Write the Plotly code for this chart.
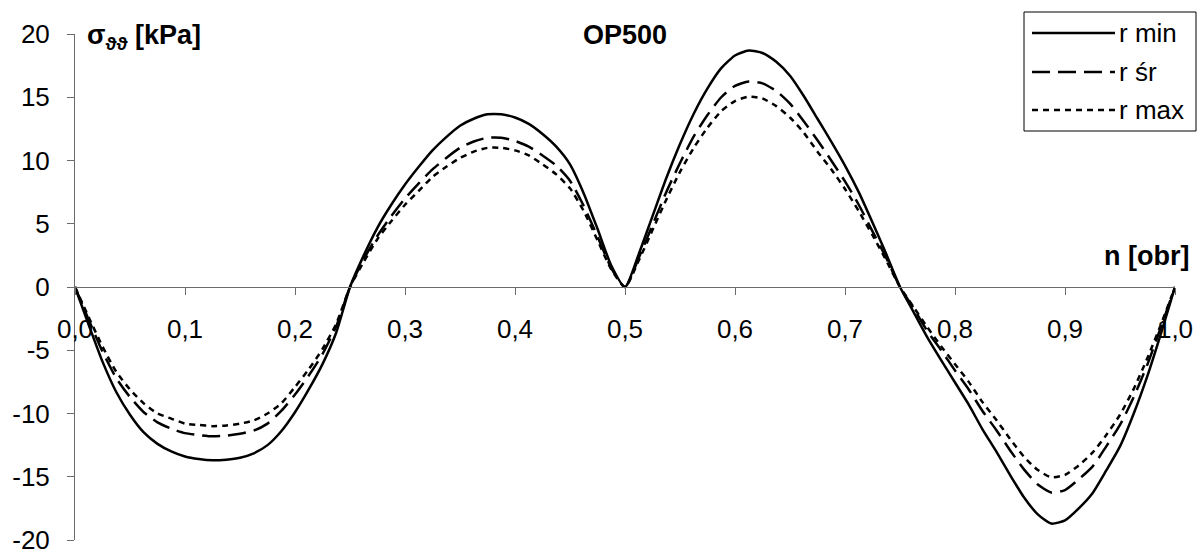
import plotly.graph_objects as go

# Rotation fraction n [obr]
n = [0.0, 0.0125, 0.025, 0.0375, 0.05, 0.0625, 0.075, 0.0875, 0.1, 0.1125,
     0.125, 0.1375, 0.15, 0.1625, 0.175, 0.1875, 0.2, 0.2125, 0.225, 0.2375,
     0.25, 0.2625, 0.275, 0.2875, 0.3, 0.3125, 0.325, 0.3375, 0.35, 0.3625,
     0.375, 0.3875, 0.4, 0.4125, 0.425, 0.4375, 0.45, 0.4625, 0.475, 0.4875,
     0.5, 0.5125, 0.525, 0.5375, 0.55, 0.5625, 0.575, 0.5875, 0.6, 0.6125,
     0.625, 0.6375, 0.65, 0.6625, 0.675, 0.6875, 0.7, 0.7125, 0.725, 0.7375,
     0.75, 0.7625, 0.775, 0.7875, 0.8, 0.8125, 0.825, 0.8375, 0.85, 0.8625,
     0.875, 0.8875, 0.9, 0.9125, 0.925, 0.9375, 0.95, 0.9625, 0.975, 0.9875,
     1.0]

# Stress sigma_theta-theta [kPa] at three radii
r_min = [0, -3.0, -5.9, -8.3, -10.1, -11.5, -12.4, -13.0, -13.4, -13.6,
         -13.7, -13.65, -13.5, -13.15, -12.5, -11.4, -9.9, -8.1, -6.1, -3.6,
         0, 2.5, 4.7, 6.5, 8.1, 9.5, 10.8, 11.85, 12.75, 13.3,
         13.65, 13.65, 13.4, 12.9, 12.1, 11.1, 9.7, 7.4, 4.6, 1.7,
         0, 2.6, 5.6, 8.6, 11.3, 13.7, 15.7, 17.3, 18.3, 18.7,
         18.5, 17.8, 16.7, 15.1, 13.3, 11.5, 9.6, 7.5, 5.1, 2.6,
         0, -2.0, -4.0, -5.8, -7.55, -9.3, -11.25, -13.0, -14.85, -16.6,
         -17.95, -18.7, -18.45, -17.5, -16.3, -14.5, -12.6, -10.0, -7.0, -3.6,
         0]

r_sr = [0, -2.6, -5.1, -7.2, -8.7, -9.9, -10.7, -11.2, -11.55, -11.7,
        -11.8, -11.75, -11.6, -11.35, -10.8, -9.8, -8.5, -7.0, -5.3, -3.1,
        0, 2.2, 4.05, 5.6, 7.0, 8.2, 9.3, 10.2, 11.0, 11.5,
        11.8, 11.8, 11.55, 11.1, 10.4, 9.6, 8.4, 6.4, 4.0, 1.5,
        0, 2.3, 4.9, 7.5, 9.8, 11.9, 13.6, 15.0, 15.9, 16.25,
        16.1, 15.5, 14.5, 13.1, 11.6, 10.0, 8.35, 6.5, 4.4, 2.3,
        0, -1.7, -3.5, -5.0, -6.6, -8.1, -9.8, -11.3, -12.9, -14.4,
        -15.6, -16.25, -16.05, -15.2, -14.2, -12.6, -10.9, -8.7, -6.1, -3.1,
        0]

r_max = [0, -2.4, -4.7, -6.7, -8.1, -9.2, -10.0, -10.4, -10.8, -10.9,
         -11.0, -10.95, -10.8, -10.55, -10.0, -9.2, -7.9, -6.5, -4.9, -2.9,
         0, 2.0, 3.8, 5.2, 6.5, 7.6, 8.7, 9.5, 10.2, 10.7,
         11.0, 11.0, 10.8, 10.4, 9.7, 8.9, 7.8, 6.0, 3.7, 1.4,
         0, 2.1, 4.5, 6.9, 9.1, 11.0, 12.6, 13.9, 14.7, 15.05,
         14.9, 14.3, 13.4, 12.2, 10.7, 9.3, 7.75, 6.0, 4.1, 2.1,
         0, -1.6, -3.2, -4.7, -6.1, -7.5, -9.1, -10.5, -12.0, -13.4,
         -14.45, -15.05, -14.85, -14.1, -13.1, -11.7, -10.1, -8.05, -5.6, -2.9,
         0]

x_ticks = [0.0, 0.1, 0.2, 0.3, 0.4, 0.5, 0.6, 0.7, 0.8, 0.9, 1.0]
x_tick_text = ["0,0", "0,1", "0,2", "0,3", "0,4", "0,5", "0,6", "0,7", "0,8", "0,9", "1,0"]
y_ticks = [-20, -15, -10, -5, 0, 5, 10, 15, 20]
y_tick_text = ["-20", "-15", "-10", "-5", "0", "5", "10", "15", "20"]

series = [
    ("r min", r_min, "solid"),
    ("r śr", r_sr, "18px,8px"),
    ("r max", r_max, "6px,5px"),
]

FONT = "Liberation Sans, Arial, sans-serif"
AXIS = "#6a6a6a"
W, H = 1198, 551
L, R, T, B = 75, 23, 34, 11


def px_x(px):
    return (px - L) / (W - L - R)


def px_y(py):
    return (H - B - py) / (H - T - B)


fig = go.Figure()
for name, vals, dash in series:
    fig.add_trace(go.Scatter(
        x=n, y=vals, mode="lines", name=name,
        line=dict(color="black", width=2.5, dash=dash, shape="spline", smoothing=0.6),
        showlegend=False,
    ))

shapes = [dict(type="rect", xref="paper", yref="paper",
               x0=px_x(1024), x1=px_x(1196), y0=px_y(131), y1=px_y(12),
               line=dict(color="black", width=1), fillcolor="white", layer="above")]
annotations = []
for (name, _, dash), row_y in zip(series, [33, 72, 110]):
    shapes.append(dict(type="line", xref="paper", yref="paper",
                       x0=px_x(1032), x1=px_x(1115), y0=px_y(row_y), y1=px_y(row_y),
                       line=dict(color="black", width=2.5, dash=dash), layer="above"))
    annotations.append(dict(text=name, xref="paper", yref="paper",
                            x=px_x(1117), y=px_y(row_y), xanchor="left", yanchor="middle",
                            showarrow=False, font=dict(family=FONT, size=26, color="black")))

annotations += [
    dict(text="<b>OP500</b>", xref="paper", yref="paper", x=0.5, y=px_y(35),
         xanchor="center", yanchor="middle", showarrow=False,
         font=dict(family=FONT, size=27, color="black")),
    dict(text="<b>σ<sub>ϑϑ</sub> [kPa]</b>", xref="paper", yref="paper", x=px_x(85), y=px_y(37),
         xanchor="left", yanchor="middle", showarrow=False,
         font=dict(family=FONT, size=27, color="black")),
    dict(text="<b>n [obr]</b>", xref="paper", yref="paper", x=px_x(1191), y=px_y(256),
         xanchor="right", yanchor="middle", showarrow=False,
         font=dict(family=FONT, size=27, color="black")),
]

fig.update_layout(
    width=W, height=H,
    margin=dict(l=L, r=R, t=T, b=B),
    paper_bgcolor="white", plot_bgcolor="white",
    font=dict(family=FONT, size=26, color="black"),
    shapes=shapes, annotations=annotations,
    xaxis=dict(range=[0, 1.0], anchor="free", position=0.5, automargin=False,
               tickvals=x_ticks, ticktext=x_tick_text,
               ticks="outside", ticklen=7, tickcolor=AXIS, tickwidth=1,
               showline=True, linecolor=AXIS, linewidth=1,
               showgrid=False, zeroline=False, ticklabelstandoff=12,
               ticklabeloverflow="allow",
               tickfont=dict(family=FONT, size=26, color="black")),
    yaxis=dict(range=[-20, 20], tickvals=y_ticks, ticktext=y_tick_text, automargin=False,
               ticks="outside", ticklen=7, tickcolor=AXIS, tickwidth=1,
               showline=True, linecolor=AXIS, linewidth=1,
               showgrid=False, zeroline=False, ticklabelstandoff=12,
               ticklabeloverflow="allow",
               tickfont=dict(family=FONT, size=26, color="black")),
)

fig.write_html("out.html")
